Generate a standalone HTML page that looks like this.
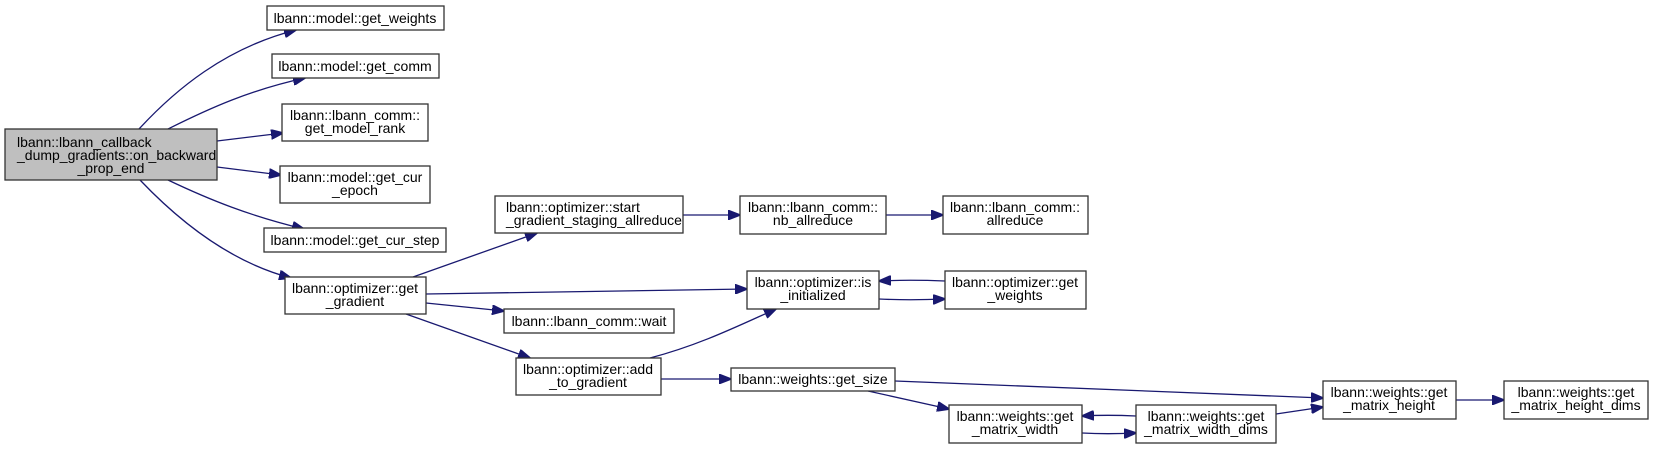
<!DOCTYPE html>
<html><head><meta charset="utf-8"><style>
html,body{margin:0;padding:0;background:#fff;}
svg{display:block;}
text{font-family:"Liberation Sans",Arial,sans-serif;font-size:14px;fill:#000;}
rect{fill:#fff;stroke:#333;stroke-width:1.3;}
path.e{fill:none;stroke:#191970;stroke-width:1.3;}
</style></head><body>
<svg width="1654" height="449" viewBox="0 0 1654 449" xmlns="http://www.w3.org/2000/svg">
<defs>
<marker id="a" markerWidth="13" markerHeight="10" refX="12" refY="5" orient="auto" markerUnits="userSpaceOnUse">
<path d="M0,0 L13,5 L0,10 Z" fill="#191970" stroke="#191970"/>
</marker>
</defs>
<g marker-end="url(#a)">
<path class="e" d="M139,129 C175,90 225,48 296,30"/>
<path class="e" d="M168,129 C210,108 250,90 305,78"/>
<path class="e" d="M217,141 L283,133"/>
<path class="e" d="M217,167 L281,175"/>
<path class="e" d="M168,180 C210,200 250,216 304,229"/>
<path class="e" d="M140,180 C180,222 230,262 291,278"/>
<path class="e" d="M413,277 L537,233"/>
<path class="e" d="M426,294 L747,289"/>
<path class="e" d="M426,303 L504,311"/>
<path class="e" d="M406,314 L530,358"/>
<path class="e" d="M650,358 C700,345 740,325 776,309"/>
<path class="e" d="M661,379 L731,379"/>
<path class="e" d="M683,215 L740,215"/>
<path class="e" d="M886,215 L943,215"/>
<path class="e" d="M879,299 C900,300 920,300 945,299"/>
<path class="e" d="M945,281 C920,280 900,280 879,281"/>
<path class="e" d="M895,381 L1323,398"/>
<path class="e" d="M868,391 L949,409"/>
<path class="e" d="M1082,433 C1100,434 1115,434 1136,433"/>
<path class="e" d="M1136,416 C1115,415 1100,415 1082,416"/>
<path class="e" d="M1276,414 L1323,407"/>
<path class="e" d="M1456,400 L1504,400"/>
</g>
<rect x="5" y="129" width="212" height="51" style="fill:#bfbfbf"/>
<text x="17" y="147">lbann::lbann_callback</text>
<text x="17" y="160">_dump_gradients::on_backward</text>
<text x="111" y="173" text-anchor="middle">_prop_end</text>

<rect x="267" y="6" width="177" height="24"/>
<text x="355" y="23" text-anchor="middle">lbann::model::get_weights</text>
<rect x="272" y="54" width="167" height="24"/>
<text x="355" y="71" text-anchor="middle">lbann::model::get_comm</text>
<rect x="282" y="104" width="146" height="37"/>
<text x="355" y="120" text-anchor="middle">lbann::lbann_comm::</text>
<text x="355" y="133" text-anchor="middle">get_model_rank</text>
<rect x="280" y="166" width="150" height="37"/>
<text x="355" y="182" text-anchor="middle">lbann::model::get_cur</text>
<text x="355" y="195" text-anchor="middle">_epoch</text>
<rect x="264" y="228" width="182" height="24"/>
<text x="355" y="245" text-anchor="middle">lbann::model::get_cur_step</text>
<rect x="285" y="277" width="141" height="37"/>
<text x="355" y="293" text-anchor="middle">lbann::optimizer::get</text>
<text x="355" y="306" text-anchor="middle">_gradient</text>

<rect x="495" y="196" width="188" height="37"/>
<text x="506" y="212">lbann::optimizer::start</text>
<text x="506" y="225">_gradient_staging_allreduce</text>
<rect x="504" y="309" width="170" height="24"/>
<text x="589" y="326" text-anchor="middle">lbann::lbann_comm::wait</text>
<rect x="516" y="358" width="145" height="37"/>
<text x="588" y="374" text-anchor="middle">lbann::optimizer::add</text>
<text x="588" y="387" text-anchor="middle">_to_gradient</text>

<rect x="740" y="196" width="146" height="38"/>
<text x="813" y="212" text-anchor="middle">lbann::lbann_comm::</text>
<text x="813" y="225" text-anchor="middle">nb_allreduce</text>
<rect x="943" y="196" width="145" height="38"/>
<text x="1015" y="212" text-anchor="middle">lbann::lbann_comm::</text>
<text x="1015" y="225" text-anchor="middle">allreduce</text>

<rect x="747" y="271" width="132" height="38"/>
<text x="813" y="287" text-anchor="middle">lbann::optimizer::is</text>
<text x="813" y="300" text-anchor="middle">_initialized</text>
<rect x="945" y="271" width="141" height="38"/>
<text x="1015" y="287" text-anchor="middle">lbann::optimizer::get</text>
<text x="1015" y="300" text-anchor="middle">_weights</text>

<rect x="731" y="368" width="164" height="23"/>
<text x="813" y="384" text-anchor="middle">lbann::weights::get_size</text>
<rect x="949" y="405" width="133" height="38"/>
<text x="1015" y="421" text-anchor="middle">lbann::weights::get</text>
<text x="1015" y="434" text-anchor="middle">_matrix_width</text>
<rect x="1136" y="405" width="140" height="38"/>
<text x="1206" y="421" text-anchor="middle">lbann::weights::get</text>
<text x="1206" y="434" text-anchor="middle">_matrix_width_dims</text>
<rect x="1323" y="381" width="133" height="38"/>
<text x="1389" y="397" text-anchor="middle">lbann::weights::get</text>
<text x="1389" y="410" text-anchor="middle">_matrix_height</text>
<rect x="1504" y="381" width="144" height="38"/>
<text x="1576" y="397" text-anchor="middle">lbann::weights::get</text>
<text x="1576" y="410" text-anchor="middle">_matrix_height_dims</text>
</svg>
</body></html>
